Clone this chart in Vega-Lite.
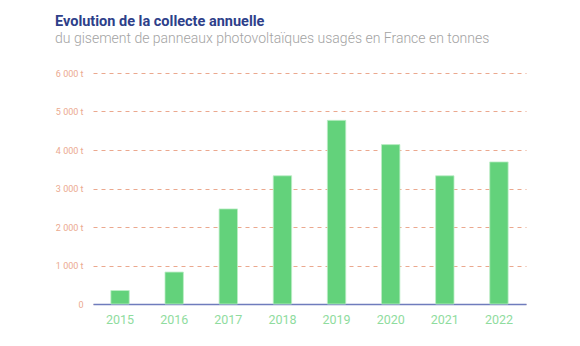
{
  "$schema": "https://vega.github.io/schema/vega-lite/v6.json",
  "width": 433,
  "height": 231,
  "autosize": {"type": "none"},
  "padding": {"left": 93, "top": 73, "right": 54, "bottom": 42},
  "background": "white",
  "title": {
    "text": "Evolution de la collecte annuelle",
    "subtitle": "du gisement de panneaux photovoltaïques usagés en France en tonnes",
    "anchor": "start",
    "frame": "group",
    "dx": -38,
    "offset": 22,
    "font": "Roboto",
    "fontSize": 14.5,
    "fontWeight": "bold",
    "color": "#2e3f8a",
    "subtitleFont": "Roboto",
    "subtitleFontSize": 14,
    "subtitleFontWeight": 300,
    "subtitleColor": "#a3a3a3",
    "subtitlePadding": 3
  },
  "data": {
    "values": [
      {"annee": "2015", "tonnes": 350},
      {"annee": "2016", "tonnes": 830},
      {"annee": "2017", "tonnes": 2470},
      {"annee": "2018", "tonnes": 3330},
      {"annee": "2019", "tonnes": 4770},
      {"annee": "2020", "tonnes": 4140},
      {"annee": "2021", "tonnes": 3330},
      {"annee": "2022", "tonnes": 3690}
    ]
  },
  "mark": {"type": "bar", "color": "#63d27b", "stroke": "#bdeec7", "strokeWidth": 0.8},
  "encoding": {
    "x": {
      "field": "annee",
      "type": "nominal",
      "sort": null,
      "scale": {"paddingInner": 0.66, "paddingOuter": 0.33},
      "axis": {
        "title": null,
        "labelAngle": 0,
        "labelFont": "Roboto",
        "labelFontSize": 12.5,
        "labelColor": "#8fdc9e",
        "labelPadding": 9,
        "ticks": false,
        "domainColor": "#6f7cbd",
        "domainWidth": 1.3,
        "grid": false
      }
    },
    "y": {
      "field": "tonnes",
      "type": "quantitative",
      "scale": {"domain": [0, 6000]},
      "axis": {
        "title": null,
        "values": [0, 1000, 2000, 3000, 4000, 5000, 6000],
        "labelExpr": "datum.value == 0 ? '0' : replace(format(datum.value, ','), ',', ' ') + ' t'",
        "labelFont": "Roboto",
        "labelFontSize": 9,
        "labelColor": "#eba98f",
        "labelPadding": 10,
        "ticks": false,
        "domain": false,
        "grid": true,
        "gridColor": "#eba88e",
        "gridDash": [4, 4],
        "gridWidth": 1
      }
    }
  },
  "config": {"view": {"stroke": null}}
}
